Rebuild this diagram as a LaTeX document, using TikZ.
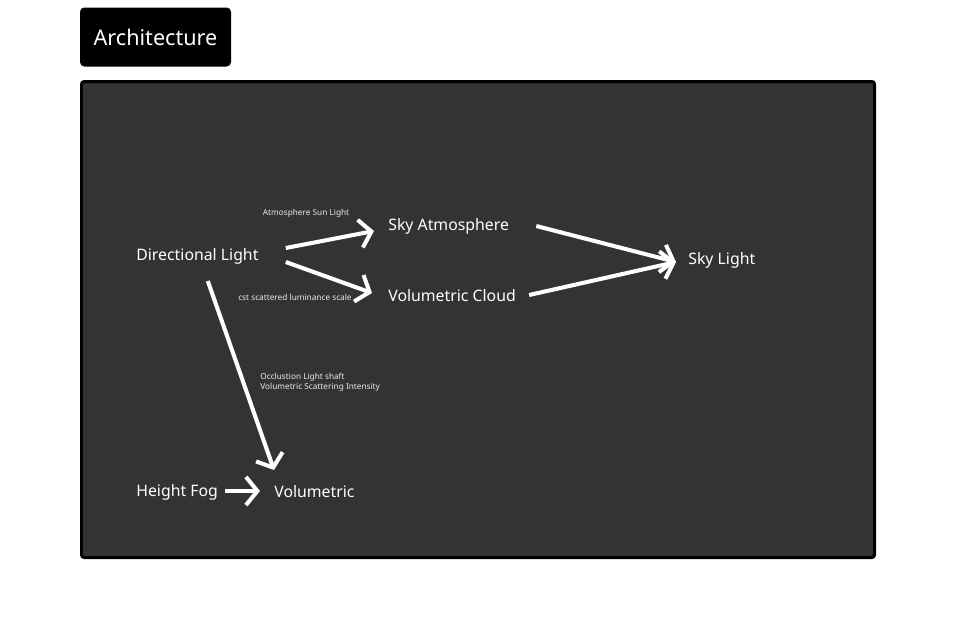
\documentclass[tikz,border=0pt]{standalone}
\usepackage{fontspec}
\setmainfont{Noto Sans}
\usepackage{xcolor}
\definecolor{panelgray}{RGB}{51,51,51}
\usetikzlibrary{arrows.meta,positioning,calc}

\begin{document}
\begin{tikzpicture}[x=0.02cm,y=-0.02cm,
  lbl/.style={text=white,font=\fontsize{9}{10}\selectfont,inner sep=0pt,anchor=west},
  tiny/.style={text=white!92!black,font=\fontsize{4.7}{5.6}\selectfont,inner sep=0pt,align=left},
  arr/.style={-{Straight Barb[length=6.5pt,width=16pt]},line width=2.3pt,white}
]
  \useasboundingbox (0,0) rectangle (956,640);
  % title and panel
  \node[fill=black,rounded corners=2.5pt,minimum width=151*0.02cm,minimum height=59*0.02cm,
    text=white,font=\fontsize{12.3}{14}\selectfont,inner sep=0pt] (title) at (155.5,37) {Architecture};
  \draw[black,fill=panelgray,line width=1.7pt,rounded corners=1.5pt] (81.5,81.5) rectangle (874.5,557.5);

  % nodes
  \node[lbl] (dirlight) at (136,256) {Directional Light};
  \node[lbl] (skyatm) at (388,226) {Sky Atmosphere};
  \node[lbl] (volcloud) at (388,296) {Volumetric Cloud};
  \node[lbl] (skylight) at (688,260) {Sky Light};
  \node[lbl] (fog) at (136,492) {Height Fog};
  \node[lbl] (volumetric) at (274,492) {Volumetric};

  % connectors
  \draw[arr] ([shift={(27,-8)}]dirlight.east) -- ([shift={(-14,5)}]skyatm.west);
  \draw[arr] ([shift={(27,6)}]dirlight.east) -- ([shift={(-16,-3)}]volcloud.west);
  \draw[arr] ([shift={(27,0)}]skyatm.east) -- ([shift={(-12,2)}]skylight.west);
  \draw[arr] ([shift={(13,-1)}]volcloud.east) -- ([shift={(-12,2)}]skylight.west);
  \draw[arr] ([shift={(-51,25)}]dirlight.east) -- ([shift={(0,-22)}]volumetric.west);
  \draw[arr] ([shift={(7,-1)}]fog.east) -- ([shift={(-14,-1)}]volumetric.west);

  % labels
  \node[tiny] (sunlbl) at (306,213) {Atmosphere Sun Light};
  \node[tiny,anchor=east] (cstlbl) at (352,297) {cst scattered luminance scale};
  \node[tiny,anchor=west] (occlbl) at (260,382) {Occlustion Light shaft\\Volumetric Scattering Intensity};
\end{tikzpicture}
\end{document}
